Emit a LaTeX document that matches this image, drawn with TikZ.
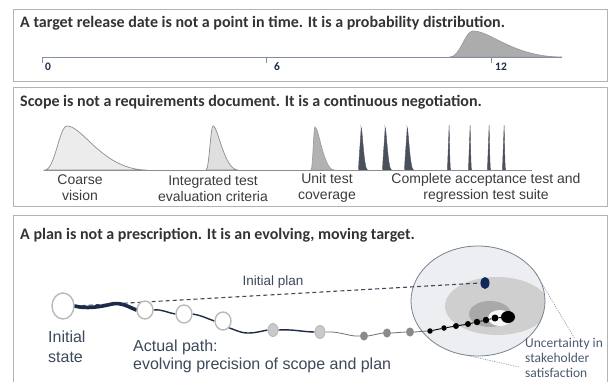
\documentclass[tikz,border=0pt]{standalone}
\usepackage{fontspec}
\setmainfont{Liberation Sans}
\newfontfamily\calib{Carlito}
\usetikzlibrary{shapes.geometric}
\pgfdeclarelayer{back}
\pgfdeclarelayer{lines}
\pgfsetlayers{back,lines,main}
\definecolor{frame}{HTML}{B4B4B4}
\definecolor{titlec}{HTML}{333333}
\definecolor{navy}{HTML}{1C2B48}
\definecolor{slate}{HTML}{3C4A5C}
\definecolor{axisc}{HTML}{8090A2}
\definecolor{capc}{HTML}{3C3C3C}
\definecolor{ringc}{HTML}{B9B9B9}
\definecolor{gdotfill}{HTML}{C9C9C9}
\definecolor{gdotline}{HTML}{B3B3B3}
\definecolor{ddotc}{HTML}{8A8A8A}
\definecolor{bluedot}{HTML}{10275A}
\definecolor{zonefill}{HTML}{ECEEF1}
\definecolor{zoneline}{HTML}{77818F}
\definecolor{midgray}{HTML}{CFCFCF}
\definecolor{darkgray}{HTML}{A9A9A9}
\definecolor{coreg}{HTML}{F7F7F7}
\definecolor{leadc}{HTML}{8D97A3}
\definecolor{uncc}{HTML}{4A5A70}
\definecolor{humpline}{HTML}{8E8E8E}
\definecolor{spikec}{HTML}{4B515C}
\newcommand\mkhump[6]{%
  \filldraw[#6] (#1,#5) .. controls ({#1+0.45*(#2-#1)},#5) and ({#2-0.35*(#2-#1)},#4) .. (#2,#4)
    .. controls ({#2+0.2*(#3-#2)},#4) and ({#2+0.45*(#3-#2)},#5) .. (#3,#5) -- cycle;}
\begin{document}
\begin{tikzpicture}[x=1pt,y=-1pt,
  panel/.style={draw=frame, line width=0.9pt},
  ttl/.style={anchor=west, inner sep=0, text=titlec, font=\calib\bfseries\fontsize{16}{19}\selectfont},
  axisline/.style={draw=axisc, line width=0.9pt},
  ticklab/.style={anchor=west, inner sep=0, text=navy, font=\calib\bfseries\fontsize{11.5}{13}\selectfont},
  caption/.style={align=center, inner sep=0, text=capc, font=\fontsize{14}{16}\selectfont},
  ring/.style={ellipse, draw=ringc, line width=1.4pt, fill=white, inner sep=0},
  gdot/.style={ellipse, draw=gdotline, fill=gdotfill, line width=0.8pt, inner sep=0, minimum width=10pt, minimum height=13pt},
  ddot/.style={ellipse, fill=ddotc, inner sep=0, minimum width=8pt, minimum height=9pt},
  bdot/.style={circle, fill=black, inner sep=0},
  thickpath/.style={draw=navy, line width=3.6pt, line cap=round},
  thinpath/.style={draw=navy, line width=1.4pt},
  graypath/.style={draw=ddotc!80!black, line width=0.8pt},
  blackpath/.style={draw=black, line width=0.9pt},
  planline/.style={draw=slate, line width=1.1pt, dash pattern=on 4pt off 3pt},
  leader/.style={draw=leadc, line width=0.6pt, dash pattern=on 1.2pt off 1.2pt},
  sidetext/.style={align=left, inner sep=0, text=slate, font=\fontsize{16}{20}\selectfont},
  hlight/.style={fill=gray!15, draw=humpline, line width=0.7pt},
  hmid/.style={fill=gray!25, draw=humpline, line width=0.7pt},
  hdark/.style={fill=gray!60, draw=gray!75, line width=0.7pt},
  hspike/.style={fill=spikec, draw=spikec, line width=0.4pt},
  hone/.style={fill=gray!65, draw=gray!80, line width=0.7pt}]
\clip (0,0) rectangle (610,381);
\begin{pgfonlayer}{back}
\fill[white] (0,0) rectangle (610,381);
\draw[panel] (13,9) rectangle (607,81);
\draw[panel] (13,87) rectangle (607,206);
\draw[panel] (13,215) rectangle (607,400);
\end{pgfonlayer}

% ---------- panel 1
\node[ttl] (t1) at (20,23) {A target release date is not a point in time. It is a probability distribution.};
\mkhump{450}{473}{562}{31}{57}{hone}
\draw[axisline] (42,57) -- (562,57);
\draw[axisline] (42,57) -- (42,63);
\draw[axisline] (266,57) -- (266,63);
\draw[axisline] (491,57) -- (491,63);
\node[ticklab] (l0) at (45,67) {0};
\node[ticklab] (l6) at (274,67) {6};
\node[ticklab] (l12) at (495,67) {12};

% ---------- panel 2
\node[ttl] (t2) at (20,102) {Scope is not a requirements document. It is a continuous negotiation.};
\mkhump{45}{67}{147}{126}{170}{hlight}
\mkhump{206}{213}{238}{126}{170}{hmid}
\mkhump{311}{315}{334}{127}{170}{hdark}
\foreach \sx in {361,385,407}{\mkhump{\sx-2.2}{\sx}{\sx+6.5}{127}{170}{hspike}}
\foreach \sx in {449,470,489,504}{\mkhump{\sx-1.3}{\sx}{\sx+1.6}{125}{170}{hspike}}
\draw[draw=humpline, line width=0.9pt] (44,170) -- (532,170);
\node[caption] (cap1) at (80,188) {Coarse\\vision};
\node[caption] (cap2) at (213,188) {Integrated test\\evaluation criteria};
\node[caption] (cap3) at (327,188) {Unit test\\coverage};
\node[caption] (cap4) at (486,188) {Complete acceptance test and\\regression test suite};

% ---------- panel 3
\node[ttl] (t3) at (20,235) {A plan is not a prescription. It is an evolving, moving target.};

\begin{pgfonlayer}{back}
\node[ellipse, fill=zonefill, inner sep=0, minimum width=134pt, minimum height=110pt] (zone) at (478,301) {};
\begin{scope}
\clip (478,301) ellipse [x radius=67pt, y radius=55pt];
\fill[midgray] (497,306) ellipse [x radius=52pt, y radius=29pt];
\end{scope}
\fill[darkgray] (490,314) ellipse [x radius=21pt, y radius=13pt];
\fill[coreg] (500,318) ellipse [x radius=12pt, y radius=8pt];
\draw[zoneline, line width=0.8pt] (478,301) ellipse [x radius=67pt, y radius=55pt];
\end{pgfonlayer}

\node[ring, minimum width=22pt, minimum height=26pt] (init) at (63,306) {};
\node[ring, minimum width=16pt, minimum height=18pt] (c1) at (145,310) {};
\node[ring, minimum width=16pt, minimum height=18pt] (c2) at (184,314) {};
\node[ring, minimum width=16pt, minimum height=18pt] (c3) at (223,321) {};
\node[gdot] (g1) at (273,330) {};
\node[gdot] (g2) at (320,332) {};
\node[ddot] (d1) at (364,336) {};
\node[ddot] (d2) at (387,333) {};
\node[ddot] (d3) at (410,332) {};
\node[bdot, minimum size=5.5pt] (b1) at (430,331) {};
\node[bdot, minimum size=5.5pt] (b2) at (444,328) {};
\node[bdot, minimum size=6pt] (b3) at (456,326) {};
\node[bdot, minimum size=6pt] (b4) at (468,324) {};
\node[bdot, minimum size=6.5pt] (b5) at (477,322) {};
\node[bdot, minimum size=6.5pt] (b6) at (486,320) {};
\node[bdot, minimum size=7pt] (b7) at (495,318) {};
\node[ellipse, fill=black, inner sep=0, minimum width=14pt, minimum height=12pt] (bigdot) at (508,317) {};
\node[ellipse, fill=bluedot, inner sep=0, minimum width=9pt, minimum height=12pt] (blue) at (485,283) {};

\begin{pgfonlayer}{lines}
\draw[planline] (init.east) -- (blue.west);
\draw[thickpath] (init.east) .. controls (86,309) and (100,307) .. (112,304) .. controls (121,302) and (129,307) .. (c1.west);
\draw[thinpath] (c1.east) .. controls (162,309) and (168,313) .. (c2.west);
\draw[thinpath] (c2.east) .. controls (200,315) and (206,318) .. (c3.west);
\draw[thinpath] (c3.south east) .. controls (236,330) and (240,333) .. (248,333) .. controls (256,333) and (262,331) .. (g1.west);
\draw[thinpath] (g1.east) .. controls (292,329) and (304,332) .. (g2.west);
\draw[graypath] (g2.east) .. controls (340,331) and (350,337) .. (d1.west);
\draw[graypath] (d1.east) -- (d2.west);
\draw[graypath] (d2.east) -- (d3.west);
\draw[graypath] (d3.east) -- (b1.west);
\draw[blackpath] (b1) -- (b2) -- (b3) -- (b4) -- (b5) -- (b6) -- (b7) -- (bigdot);
\coordinate (lead1) at (575,339);
\coordinate (lead2) at (519,367);
\draw[leader] (zone.28) -- (lead1);
\draw[leader] (zone.260) -- (lead2);
\end{pgfonlayer}

\node[inner sep=0, text=slate, font=\fontsize{13.5}{16}\selectfont] (plan) at (273,282) {Initial plan};
\node[sidetext, anchor=west] (istate) at (48,347) {Initial\\state};
\node[sidetext, anchor=west, font=\fontsize{16}{18}\selectfont] (apath) at (133,356) {Actual path:\\evolving precision of scope and plan};
\node[anchor=north west, align=left, inner sep=0, text=uncc, font=\calib\fontsize{13.5}{15}\selectfont] (unc) at (525,338) {Uncertainty in\\stakeholder\\satisfaction};
\end{tikzpicture}
\end{document}
